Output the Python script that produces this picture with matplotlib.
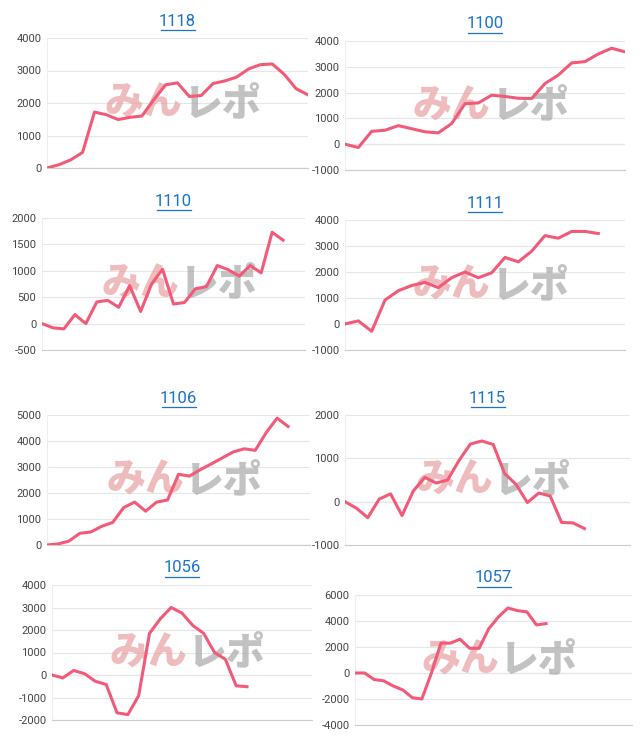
import matplotlib.pyplot as plt
from matplotlib.lines import Line2D

names = ['1118', '1100', '1110', '1111', '1106', '1115', '1056', '1057']

s1118 = [0, 100, 250, 480, 1720, 1640, 1490, 1560, 1600, 2100, 2560, 2620, 2200,
         2230, 2600, 2680, 2800, 3050, 3180, 3200, 2880, 2440, 2250]
s1100 = [0, -130, 500, 540, 720, 600, 480, 440, 800, 1570, 1600, 1900, 1850,
         1780, 1770, 2350, 2680, 3150, 3200, 3500, 3720, 3580]
s1110 = [0, -80, -100, 170, 0, 410, 440, 310, 720, 230, 750, 1030, 370, 400,
         660, 700, 1100, 1020, 900, 1100, 960, 1730, 1580]
s1111 = [0, 120, -280, 920, 1280, 1480, 1600, 1400, 1780, 2000, 1780, 1970,
         2560, 2390, 2800, 3400, 3300, 3560, 3560, 3480]
s1106 = [0, 40, 150, 450, 500, 720, 870, 1440, 1650, 1300, 1650, 1730, 2720,
         2650, 2900, 3120, 3350, 3580, 3700, 3640, 4320, 4880, 4560]
s1115 = [0, -150, -370, 60, 180, -320, 250, 560, 430, 500, 950, 1330, 1400,
         1320, 650, 400, -20, 200, 130, -480, -490, -620]
s1056 = [0, -130, 200, 60, -280, -420, -1680, -1760, -920, 1850, 2500, 3000,
         2750, 2200, 1850, 1000, 700, -480, -520]
s1057 = [0, 0, -500, -600, -1000, -1300, -1900, -2000, 0, 2300, 2300, 2600,
         1900, 1900, 3400, 4300, 5000, 4800, 4700, 3700, 3800]
series = [s1118, s1100, s1110, s1111, s1106, s1115, s1056, s1057]

yticks = [
    [0, 1000, 2000, 3000, 4000],
    [-1000, 0, 1000, 2000, 3000, 4000],
    [-500, 0, 500, 1000, 1500, 2000],
    [-1000, 0, 1000, 2000, 3000, 4000],
    [0, 1000, 2000, 3000, 4000, 5000],
    [-1000, 0, 1000, 2000],
    [-2000, -1000, 0, 1000, 2000, 3000, 4000],
    [-4000, -2000, 0, 2000, 4000, 6000],
]
# number of x slots in each panel
xslots = [22, 21, 24, 21, 24, 25, 24, 29]

# axes boxes in pixels: left, right, top, bottom
boxes = [(47, 308, 38, 168), (345, 625, 41, 170), (42, 305, 218, 350),
         (345, 625, 220, 350), (47, 310, 415, 545), (345, 630, 415, 545),
         (52, 312, 585, 720), (355, 632, 595, 725)]

W, H = 640, 745
fig = plt.figure(figsize=(W / 100, H / 100), dpi=100)
line_col = '#f25a78'

for name, s, yt, n, (l, r, t, b) in zip(names, series, yticks, xslots, boxes):
    ax = fig.add_axes([l / W, 1 - b / H, (r - l) / W, (b - t) / H])
    ax.plot(range(len(s)), s, color=line_col, lw=2.2, zorder=3)
    ax.set_xlim(0, n)
    ax.set_ylim(yt[0], yt[-1])
    ax.set_yticks(yt)
    ax.set_yticklabels([str(v) for v in yt], fontsize=8, color='#444444',
                       family='Roboto')
    ax.set_xticks([])
    ax.tick_params(axis='y', length=0, pad=4)
    ax.grid(axis='y', color='#e6e6e6', lw=0.8)
    for sp in ['top', 'right']:
        ax.spines[sp].set_visible(False)
    ax.spines['left'].set_color('#eeeeee')
    ax.spines['bottom'].set_color('#cccccc')
    ax.axhline(0, color='#cccccc', lw=0.8, zorder=1)
    # watermark
    ax.text(0.52, 0.5, 'みん', transform=ax.transAxes, fontsize=28,
            family='Noto Sans CJK JP', weight='black', style='italic',
            color='#e8a0a0', alpha=0.7, ha='right', va='center', zorder=2)
    ax.text(0.52, 0.5, 'レポ', transform=ax.transAxes, fontsize=28,
            family='Noto Sans CJK JP', weight='black', style='italic',
            color='#a8a8a8', alpha=0.7, ha='left', va='center', zorder=2)
    # title with underline
    cx = (l + r) / 2 / W
    ty = 1 - (t - 17) / H
    fig.text(cx, ty, name, ha='center', va='center', fontsize=12,
             color='#1a73c8', family='Roboto')
    fig.add_artist(Line2D([cx - 17 / W, cx + 17 / W], [ty - 9 / H, ty - 9 / H],
                          color='#1a73c8', lw=0.9))

fig.savefig('out.png', dpi=100)
